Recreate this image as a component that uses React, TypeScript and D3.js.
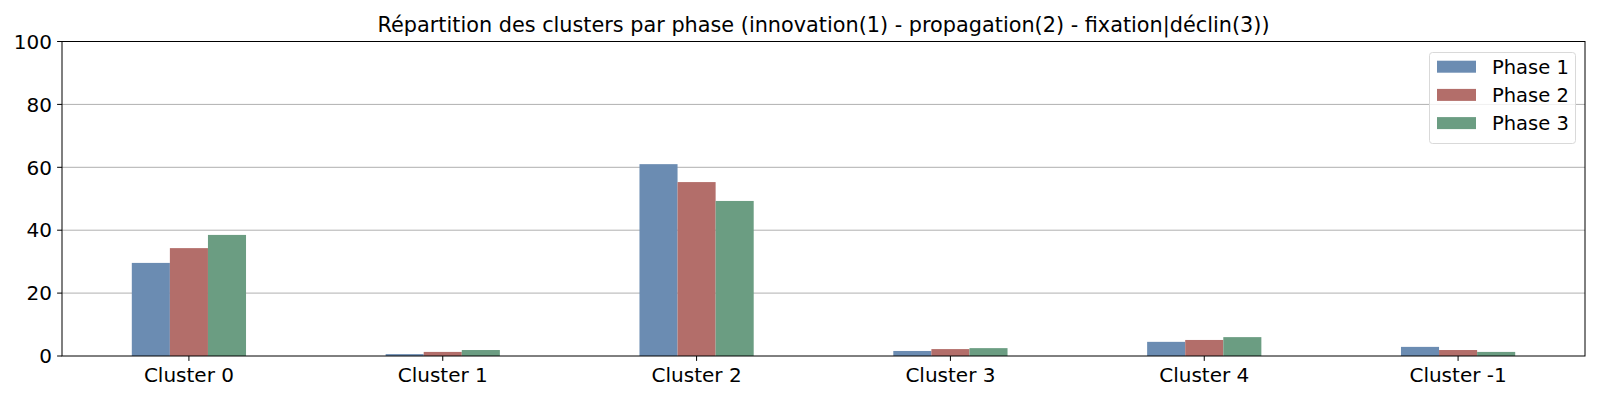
import React from "react";
import * as d3 from "d3";

const categories = ["Cluster 0", "Cluster 1", "Cluster 2", "Cluster 3", "Cluster 4", "Cluster -1"];
const seriesNames = ["Phase 1", "Phase 2", "Phase 3"];
const phase1 = [29.6, 0.6, 61.0, 1.6, 4.5, 2.9];
const phase2 = [34.3, 1.3, 55.3, 2.2, 5.1, 1.9];
const phase3 = [38.5, 1.9, 49.3, 2.5, 6.0, 1.3];
const yTicks = [0, 20, 40, 60, 80, 100];
const colors = ["#6b8cb2", "#b36e6a", "#6b9d82"];
const title = "Répartition des clusters par phase (innovation(1) - propagation(2) - fixation|déclin(3))";

const W = 1600, H = 400;
const left = 62, right = 1585, top = 41.5, bottom = 356;
const font = "DejaVu Sans, sans-serif";

export default function App() {
  const series = [phase1, phase2, phase3];
  const x = d3.scaleLinear().domain([-0.5, categories.length - 0.5]).range([left, right]);
  const y = d3.scaleLinear().domain([0, 100]).range([bottom, top]);
  const unit = x(1) - x(0);
  const barW = 0.15;
  return (
    <svg width={W} height={H} style={{ position: "absolute", left: 0, top: 0, fontFamily: font }}>
      <rect x={0} y={0} width={W} height={H} fill="#fff" />
      <text x={(left + right) / 2} y={31.5} textAnchor="middle" fontSize={20.8} fill="#000">{title}</text>
      {yTicks.map((t) => (
        <g key={t}>
          {t > 0 && t < 100 && <line x1={left} x2={right} y1={y(t)} y2={y(t)} stroke="#b0b0b0" strokeWidth={1} />}
          <line x1={left - 4.9} x2={left} y1={y(t)} y2={y(t)} stroke="#000" strokeWidth={1} />
          <text x={left - 10} y={y(t)} dy="0.36em" textAnchor="end" fontSize={20} fill="#000">{t}</text>
        </g>
      ))}
      {categories.map((c, i) => (
        <g key={c}>
          {series.map((s, j) => (
            <rect key={j} x={x(i + (j - 1.5) * barW)} width={barW * unit} y={y(s[i])} height={y(0) - y(s[i])} fill={colors[j]} />
          ))}
          <line x1={x(i)} x2={x(i)} y1={bottom} y2={bottom + 4.9} stroke="#000" strokeWidth={1} />
          <text x={x(i)} y={bottom + 25.5} textAnchor="middle" fontSize={20} fill="#000">{c}</text>
        </g>
      ))}
      <rect x={left} y={top} width={right - left} height={bottom - top} fill="none" stroke="#000" strokeWidth={1} />
      <rect x={1429.5} y={52.5} width={146} height={91} rx={3} fill="#fff" fillOpacity={0.8} stroke="#d9d9d9" strokeWidth={1} />
      {seriesNames.map((n, j) => (
        <g key={n}>
          <rect x={1437} y={60.7 + j * 28.2} width={39} height={12} fill={colors[j]} />
          <text x={1492} y={73.5 + j * 28.2} fontSize={19.5} fill="#000">{n}</text>
        </g>
      ))}
    </svg>
  );
}
